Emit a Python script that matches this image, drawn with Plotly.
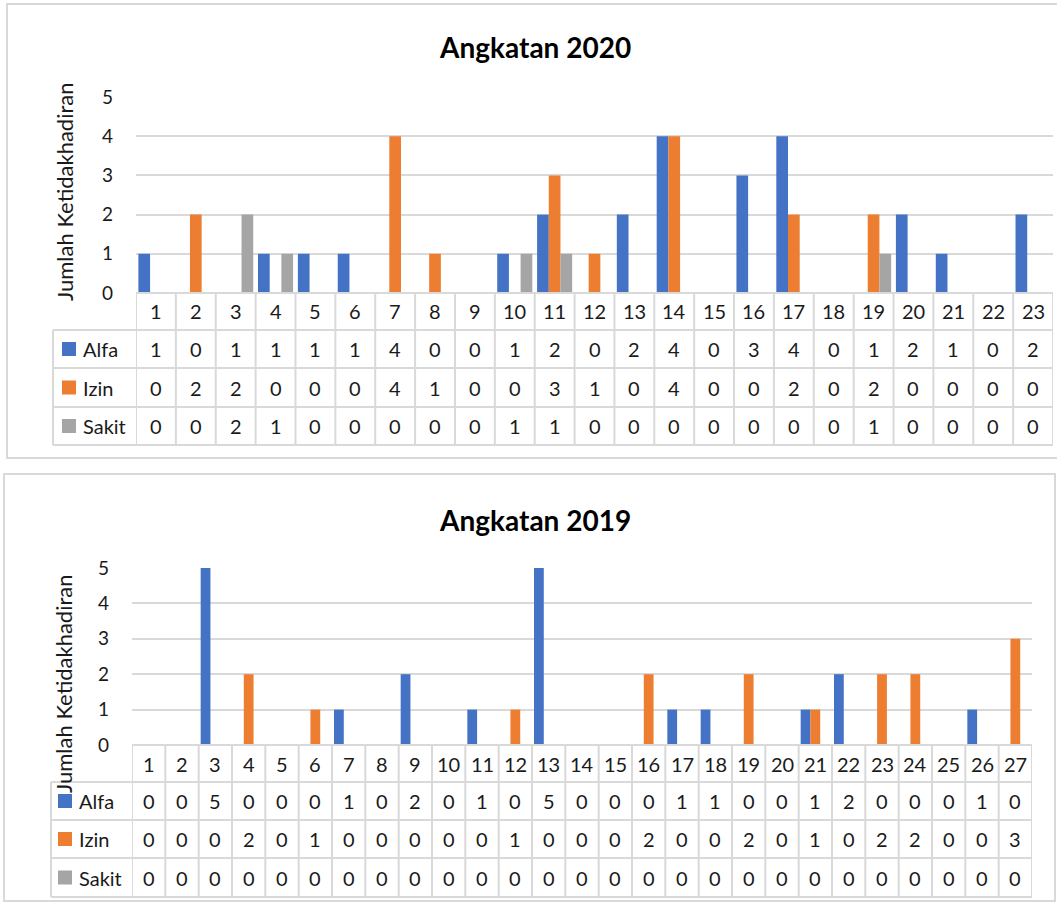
import plotly.graph_objects as go

# ---------------- data ----------------
series_names = ["Alfa", "Izin", "Sakit"]
series_colors = ["#4472C4", "#ED7D31", "#A5A5A5"]

# Angkatan 2020
cats_2020 = list(range(1, 24))
# values as listed in the data table
table_2020_alfa = [1, 0, 1, 1, 1, 1, 4, 0, 0, 1, 2, 0, 2, 4, 0, 3, 4, 0, 1, 2, 1, 0, 2]
table_2020_izin = [0, 2, 2, 0, 0, 0, 4, 1, 0, 0, 3, 1, 0, 4, 0, 0, 2, 0, 2, 0, 0, 0, 0]
table_2020_sakit = [0, 0, 2, 1, 0, 0, 0, 0, 0, 1, 1, 0, 0, 0, 0, 0, 0, 0, 1, 0, 0, 0, 0]
# bar heights as drawn in the chart
bars_2020_alfa = [1, 0, 0, 1, 1, 1, 0, 0, 0, 1, 2, 0, 2, 4, 0, 3, 4, 0, 0, 2, 1, 0, 2]
bars_2020_izin = [0, 2, 0, 0, 0, 0, 4, 1, 0, 0, 3, 1, 0, 4, 0, 0, 2, 0, 2, 0, 0, 0, 0]
bars_2020_sakit = [0, 0, 2, 1, 0, 0, 0, 0, 0, 1, 1, 0, 0, 0, 0, 0, 0, 0, 1, 0, 0, 0, 0]

# Angkatan 2019
cats_2019 = list(range(1, 28))
table_2019_alfa = [0, 0, 5, 0, 0, 0, 1, 0, 2, 0, 1, 0, 5, 0, 0, 0, 1, 1, 0, 0, 1, 2, 0, 0, 0, 1, 0]
table_2019_izin = [0, 0, 0, 2, 0, 1, 0, 0, 0, 0, 0, 1, 0, 0, 0, 2, 0, 0, 2, 0, 1, 0, 2, 2, 0, 0, 3]
table_2019_sakit = [0] * 27
bars_2019_alfa = table_2019_alfa
bars_2019_izin = table_2019_izin
bars_2019_sakit = table_2019_sakit

y_ticks = [0, 1, 2, 3, 4, 5]
title_2020 = "Angkatan 2020"
title_2019 = "Angkatan 2019"
y_title = "Jumlah Ketidakhadiran"

# ---------------- layout helpers ----------------
W, H = 1057, 903
FONT = "Lato"
TXT = "#1a1a1a"
GRID = "#d9d9d9"
TS = 20  # table text size


def px(x):
    return x / W


def py(y):
    return 1 - y / H


fig = go.Figure()

panels = [
    dict(cats=cats_2020,
         bars=[bars_2020_alfa, bars_2020_izin, bars_2020_sakit],
         table=[table_2020_alfa, table_2020_izin, table_2020_sakit],
         xa="x", ya="y", title=title_2020,
         plot_l=136, plot_r=1053, y0=293, y5=97,
         rows=[293, 330, 368, 407, 445], tab_l=53,
         sq_x=62, txt_x=81, title_y=47, ytitle_x=64, ytitle_y=192,
         border=(7, 4, 1062, 458)),
    dict(cats=cats_2019,
         bars=[bars_2019_alfa, bars_2019_izin, bars_2019_sakit],
         table=[table_2019_alfa, table_2019_izin, table_2019_sakit],
         xa="x2", ya="y2", title=title_2019,
         plot_l=132, plot_r=1032, y0=745, y5=568,
         rows=[745, 782, 820, 858, 897], tab_l=51,
         sq_x=58, txt_x=77, title_y=520, ytitle_x=63, ytitle_y=684,
         border=(4, 474, 1055, 901)),
]

shapes = []
annotations = []

for p in panels:
    for name, color, vals in zip(series_names, series_colors, p["bars"]):
        fig.add_trace(go.Bar(x=p["cats"], y=vals, name=name, marker_color=color,
                             marker_line_width=0, xaxis=p["xa"], yaxis=p["ya"],
                             showlegend=False))
    xref = p["xa"]
    n = len(p["cats"])
    rows = p["rows"]
    line = dict(color=GRID, width=2)
    # panel border
    bl, bt, br, bb = p["border"]
    shapes.append(dict(type="rect", xref="paper", yref="paper", x0=px(bl), x1=px(br),
                       y0=py(bb), y1=py(bt), line=line, layer="below"))
    # table horizontal lines
    shapes.append(dict(type="line", xref="paper", yref="paper", x0=px(p["plot_l"]),
                       x1=px(p["plot_r"]), y0=py(rows[0]), y1=py(rows[0]), line=line))
    for r in rows[1:]:
        shapes.append(dict(type="line", xref="paper", yref="paper", x0=px(p["tab_l"]),
                           x1=px(p["plot_r"]), y0=py(r), y1=py(r), line=line))
    # table vertical lines
    shapes.append(dict(type="line", xref="paper", yref="paper", x0=px(p["tab_l"]),
                       x1=px(p["tab_l"]), y0=py(rows[1]), y1=py(rows[-1]), line=line))
    for k in range(n + 1):
        shapes.append(dict(type="line", xref=xref, yref="paper", x0=k + 0.5, x1=k + 0.5,
                           y0=py(rows[0]), y1=py(rows[-1]), line=line))
    # category labels
    cy = (rows[0] + rows[1]) / 2
    for c in p["cats"]:
        annotations.append(dict(x=c, xref=xref, y=py(cy), yref="paper", text=str(c),
                                showarrow=False, xanchor="center", yanchor="middle",
                                font=dict(family=FONT, size=TS, color=TXT)))
    # series rows
    for i, (name, color, vals) in enumerate(zip(series_names, series_colors, p["table"])):
        ry = (rows[i + 1] + rows[i + 2]) / 2
        shapes.append(dict(type="rect", xref="paper", yref="paper", x0=px(p["sq_x"]),
                           x1=px(p["sq_x"] + 14), y0=py(ry + 7), y1=py(ry - 7),
                           fillcolor=color, line=dict(width=0)))
        annotations.append(dict(x=px(p["txt_x"]), xref="paper", y=py(ry), yref="paper",
                                text=name, showarrow=False, xanchor="left", yanchor="middle",
                                font=dict(family=FONT, size=TS, color=TXT)))
        for c, v in zip(p["cats"], vals):
            annotations.append(dict(x=c, xref=xref, y=py(ry), yref="paper", text=str(v),
                                    showarrow=False, xanchor="center", yanchor="middle",
                                    font=dict(family=FONT, size=TS, color=TXT)))
    # titles
    annotations.append(dict(x=px(535), xref="paper", y=py(p["title_y"]), yref="paper",
                            text="<b>" + p["title"] + "</b>", showarrow=False,
                            xanchor="center", yanchor="middle",
                            font=dict(family=FONT, size=28, color="#000000")))
    annotations.append(dict(x=px(p["ytitle_x"]), xref="paper", y=py(p["ytitle_y"]),
                            yref="paper", text=y_title, textangle=-90, showarrow=False,
                            xanchor="center", yanchor="middle",
                            font=dict(family=FONT, size=22, color=TXT)))

axis_common_x = dict(showticklabels=False, showgrid=False, zeroline=False, showline=False,
                     ticks="", fixedrange=True, automargin=False)
axis_common_y = dict(range=[0, 5], tickvals=y_ticks, showgrid=True, gridcolor=GRID,
                     gridwidth=2, zeroline=False, showline=False, ticks="",
                     ticklabelstandoff=22, automargin=False,
                     tickfont=dict(family=FONT, size=19, color=TXT))

p0, p1 = panels
fig.update_layout(
    width=W, height=H, autosize=False,
    margin=dict(l=0, r=0, t=0, b=0, pad=0, autoexpand=False),
    paper_bgcolor="white", plot_bgcolor="white",
    barmode="group", bargap=0.12, bargroupgap=0,
    xaxis=dict(domain=[px(p0["plot_l"]), px(p0["plot_r"])], range=[0.5, len(cats_2020) + 0.5],
               anchor="y", **axis_common_x),
    yaxis=dict(domain=[py(p0["y0"]), py(p0["y5"])], anchor="x", **axis_common_y),
    xaxis2=dict(domain=[px(p1["plot_l"]), px(p1["plot_r"])], range=[0.5, len(cats_2019) + 0.5],
                anchor="y2", **axis_common_x),
    yaxis2=dict(domain=[py(p1["y0"]), py(p1["y5"])], anchor="x2", **axis_common_y),
    shapes=shapes,
    annotations=annotations,
    font=dict(family=FONT),
)

fig.write_html(
    "out.html",
    config={"displayModeBar": False},
    post_script="document.body.style.margin='0';document.body.style.overflow='hidden';",
)
